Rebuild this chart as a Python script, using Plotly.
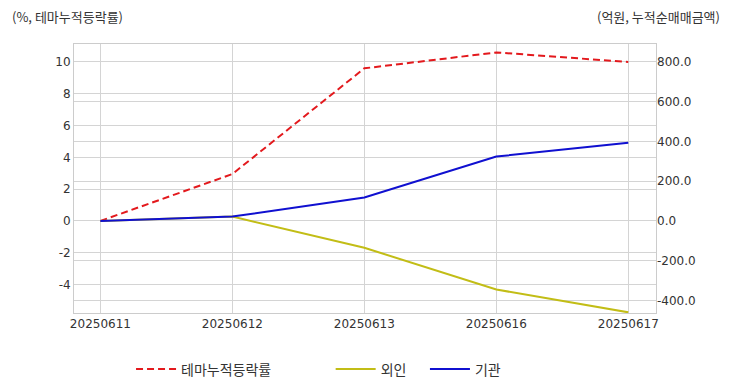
import plotly.graph_objects as go

dates = ["20250611", "20250612", "20250613", "20250616", "20250617"]
theme_rate = [0.0, 2.95, 9.6, 10.6, 10.0]
foreign = [0.0, 22.0, -135.0, -345.0, -460.0]
institution = [0.0, 22.0, 118.0, 324.0, 393.0]

left_ticks = [-4, -2, 0, 2, 4, 6, 8, 10]
left_ticktext = ["-4", "-2", "0", "2", "4", "6", "8", "10"]
right_ticks = [-400, -200, 0, 200, 400, 600, 800]
right_ticktext = ["-400.0", "-200.0", "0.0", "200.0", "400.0", "600.0", "800.0"]

NUMFONT = "DejaVu Sans, Noto Sans CJK KR"
KFONT = "Noto Sans CJK KR"
TXT = "#333333"

fig = go.Figure()
fig.add_trace(go.Scatter(x=dates, y=theme_rate, name="테마누적등락률", mode="lines",
                         line=dict(color="#e3191d", width=2, dash="7px,4px"), yaxis="y",
                         legend="legend", showlegend=True))
fig.add_trace(go.Scatter(x=dates, y=foreign, name="외인", mode="lines",
                         line=dict(color="#c2bd16", width=2), yaxis="y2", legend="legend2",
                         showlegend=True))
fig.add_trace(go.Scatter(x=dates, y=institution, name="기관", mode="lines",
                         line=dict(color="#1010d0", width=2), yaxis="y2", legend="legend3",
                         showlegend=True))

grid = "#d4d4d4"
leg_common = dict(orientation="h", xanchor="left", y=-0.21, yanchor="middle", itemwidth=40,
                  font=dict(family=KFONT, size=14, color=TXT), bgcolor="rgba(0,0,0,0)")
fig.update_layout(
    width=732, height=392,
    margin=dict(l=74, r=76, t=44, b=79, autoexpand=False),
    paper_bgcolor="white", plot_bgcolor="white",
    showlegend=True,
    font=dict(family=KFONT, size=12, color=TXT),
    xaxis=dict(type="category", range=[-0.2, 4.21], showgrid=True, gridcolor=grid, gridwidth=1,
               showline=True, linecolor="#cccccc", linewidth=1, mirror=True, ticks="",
               tickfont=dict(family=NUMFONT, size=12, color=TXT), zeroline=False),
    yaxis=dict(range=[-5.79, 11.13], tickmode="array", tickvals=left_ticks, ticktext=left_ticktext,
               showgrid=True, gridcolor=grid, gridwidth=1,
               zeroline=False, showline=True, linecolor="#cccccc", linewidth=1, mirror=True,
               tickfont=dict(family=NUMFONT, size=12, color=TXT), ticks=""),
    yaxis2=dict(range=[-463.2, 890.4], tickmode="array", tickvals=right_ticks, ticktext=right_ticktext,
                overlaying="y", side="right",
                showgrid=True, gridcolor=grid, gridwidth=1, zeroline=False,
                tickfont=dict(family=NUMFONT, size=12, color=TXT), ticks="", showline=False),
    legend=dict(x=0.098, **leg_common),
    legend2=dict(x=0.441, **leg_common),
    legend3=dict(x=0.603, **leg_common),
    annotations=[
        dict(text="(%, 테마누적등락률)", xref="paper", yref="paper", x=-0.11, y=1.104,
             xanchor="left", yanchor="middle", showarrow=False,
             font=dict(family=KFONT, size=13, color=TXT)),
        dict(text="(억원, 누적순매매금액)", xref="paper", yref="paper", x=1.1134, y=1.104,
             xanchor="right", yanchor="middle", showarrow=False,
             font=dict(family=KFONT, size=13, color=TXT)),
    ],
)
fig.write_html("out.html", post_script="document.body.style.margin='0';",
               config={"displayModeBar": False})
